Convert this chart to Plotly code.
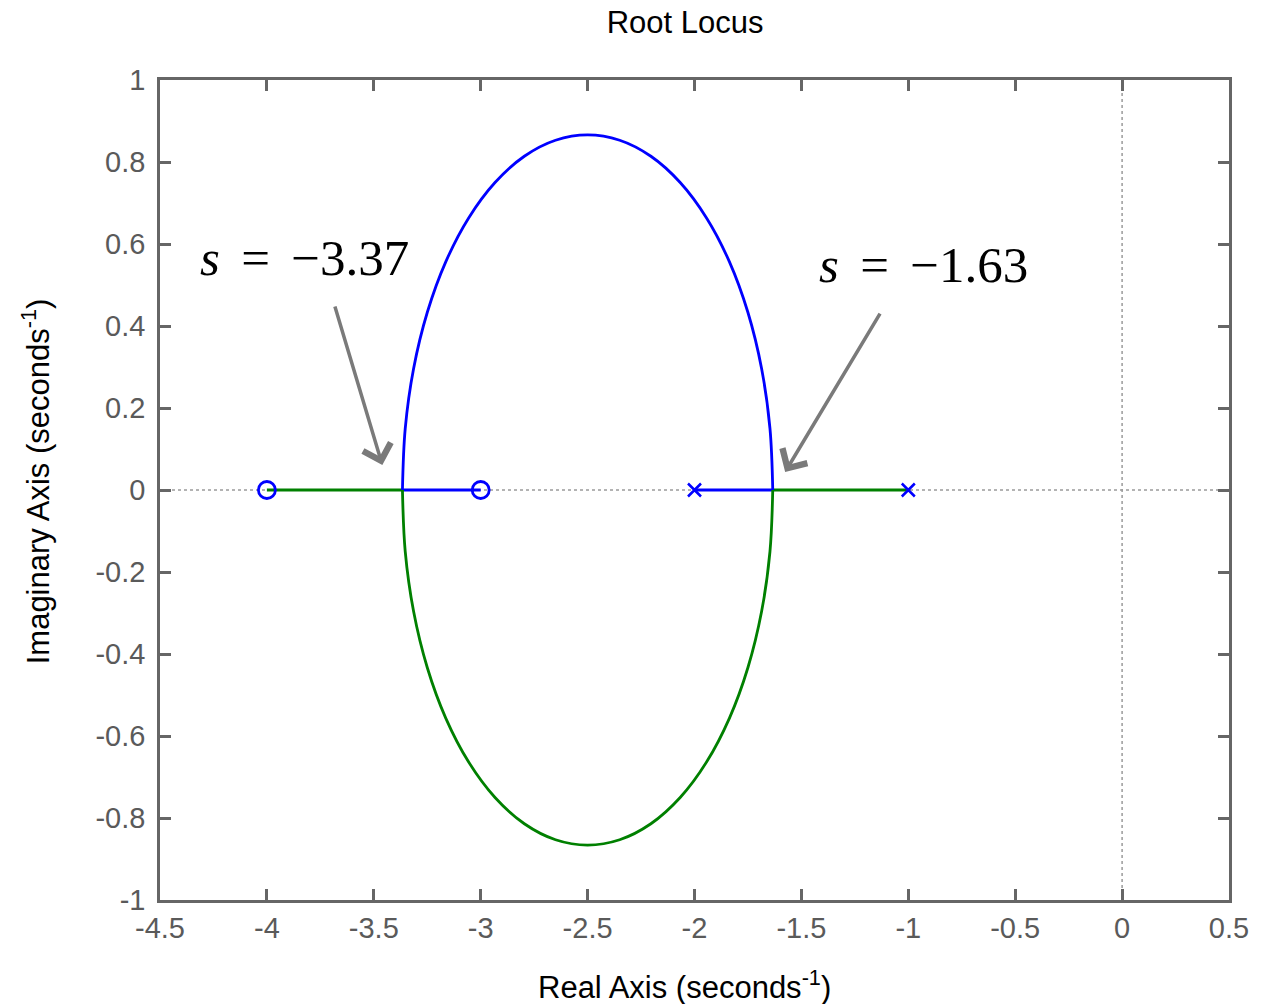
import plotly.graph_objects as go

# ---- data ----
x_range = [-4.5, 0.5]
y_range = [-1, 1]
x_ticks = [-4.5, -4, -3.5, -3, -2.5, -2, -1.5, -1, -0.5, 0, 0.5]
x_tick_labels = ["-4.5", "-4", "-3.5", "-3", "-2.5", "-2", "-1.5", "-1", "-0.5", "0", "0.5"]
y_ticks = [-1, -0.8, -0.6, -0.4, -0.2, 0, 0.2, 0.4, 0.6, 0.8, 1]
y_tick_labels = ["-1", "-0.8", "-0.6", "-0.4", "-0.2", "0", "0.2", "0.4", "0.6", "0.8", "1"]

zeros_x = [-4, -3]
zeros_y = [0, 0]
poles_x = [-2, -1]
poles_y = [0, 0]

# complex part of the locus (read points along the curve)
arc_x = [-3.366, -3.353, -3.314, -3.250, -3.163, -3.057, -2.933, -2.796, -2.650, -2.500,
         -2.350, -2.204, -2.067, -1.943, -1.837, -1.750, -1.686, -1.647, -1.634]
arc_upper_y = [0.000, 0.150, 0.296, 0.433, 0.557, 0.663, 0.750, 0.814, 0.853, 0.866,
               0.853, 0.814, 0.750, 0.663, 0.557, 0.433, 0.296, 0.150, 0.000]
arc_lower_y = [0.000, -0.150, -0.296, -0.433, -0.557, -0.663, -0.750, -0.814, -0.853, -0.866,
               -0.853, -0.814, -0.750, -0.663, -0.557, -0.433, -0.296, -0.150, 0.000]

# real-axis segments
blue_seg1_x = [-2.0, -1.634]
blue_seg2_x = [-3.366, -3.0]
green_seg1_x = [-1.0, -1.634]
green_seg2_x = [-3.366, -4.0]
seg_y = [0, 0]

# annotations
SP = "\u2004\u200a"
left_label = "<i>s</i>" + SP + "=" + SP + "\u22123.37"
right_label = "<i>s</i>" + SP + "=" + SP + "\u22121.63"
left_label_pos = [-3.824, 0.566]
right_label_pos = [-0.927, 0.549]
left_arrow_tail = [-3.684, 0.451]
left_arrow_head = [-3.460, 0.061]
right_arrow_tail = [-1.128, 0.434]
right_arrow_head = [-1.576, 0.044]

BLUE = "#0000FF"
GREEN = "#008000"
AX = "#666666"

fig = go.Figure()

# dotted zero lines
fig.add_shape(type="line", xref="paper", yref="y", x0=0, x1=1, y0=0, y1=0,
              line=dict(color="#9a9a9a", width=1.5, dash="dot"), layer="below")
fig.add_shape(type="line", xref="x", yref="paper", x0=0, x1=0, y0=0, y1=1,
              line=dict(color="#9a9a9a", width=1.5, dash="dot"), layer="below")

lw = 2.8
fig.add_trace(go.Scatter(x=blue_seg1_x, y=seg_y, mode="lines", line=dict(color=BLUE, width=lw)))
fig.add_trace(go.Scatter(x=blue_seg2_x, y=seg_y, mode="lines", line=dict(color=BLUE, width=lw)))
fig.add_trace(go.Scatter(x=green_seg1_x, y=seg_y, mode="lines", line=dict(color=GREEN, width=lw)))
fig.add_trace(go.Scatter(x=green_seg2_x, y=seg_y, mode="lines", line=dict(color=GREEN, width=lw)))
fig.add_trace(go.Scatter(x=arc_x, y=arc_upper_y, mode="lines",
                         line=dict(color=BLUE, width=lw, shape="spline", smoothing=1)))
fig.add_trace(go.Scatter(x=arc_x, y=arc_lower_y, mode="lines",
                         line=dict(color=GREEN, width=lw, shape="spline", smoothing=1)))

fig.add_trace(go.Scatter(x=zeros_x, y=zeros_y, mode="markers",
                         marker=dict(symbol="circle-open", size=17, color=BLUE, line=dict(width=2.8))))
fig.add_trace(go.Scatter(x=poles_x, y=poles_y, mode="markers",
                         marker=dict(symbol="x-thin-open", size=13, color=BLUE, line=dict(width=2.5))))

label_font = dict(family="Liberation Serif", size=51, color="#000000")
fig.add_annotation(x=left_label_pos[0], y=left_label_pos[1], xref="x", yref="y",
                   text=left_label, showarrow=False, font=label_font)
fig.add_annotation(x=right_label_pos[0], y=right_label_pos[1], xref="x", yref="y",
                   text=right_label, showarrow=False, font=label_font)

for tail, head in [(left_arrow_tail, left_arrow_head), (right_arrow_tail, right_arrow_head)]:
    fig.add_annotation(x=head[0], y=head[1], ax=tail[0], ay=tail[1],
                       xref="x", yref="y", axref="x", ayref="y",
                       text="", showarrow=True, arrowhead=4, arrowsize=1.6,
                       arrowwidth=3.5, arrowcolor="#7a7a7a")

# axis titles
fig.add_annotation(text="Real Axis (seconds<sup>-1</sup>)", xref="paper", yref="paper",
                   x=0.4907, y=-0.1037, xanchor="center", yanchor="middle", showarrow=False,
                   font=dict(family="Liberation Sans", size=31, color="#000000"))
fig.add_annotation(text="Imaginary Axis (seconds<sup>-1</sup>)", xref="paper", yref="paper",
                   x=-0.1157, y=0.511, xanchor="center", yanchor="middle", showarrow=False,
                   textangle=-90,
                   font=dict(family="Liberation Sans", size=31, color="#000000"))

axis_common = dict(showline=True, linecolor=AX, linewidth=2.5, mirror="ticks",
                   ticks="inside", ticklen=11, tickwidth=2.5, tickcolor=AX,
                   showgrid=False, zeroline=False,
                   tickfont=dict(family="Liberation Sans", size=29, color="#5a5a5a"))

fig.update_layout(
    width=1261, height=1004,
    margin=dict(l=160, r=29, t=80, b=104),
    paper_bgcolor="white", plot_bgcolor="white",
    showlegend=False,
    title=dict(text="Root Locus", x=0.5433, xanchor="center", y=0.978, yanchor="middle",
               font=dict(family="Liberation Sans", size=31, color="#000000")),
    xaxis=dict(range=x_range, tickvals=x_ticks, ticktext=x_tick_labels, **axis_common),
    yaxis=dict(range=y_range, tickvals=y_ticks, ticktext=y_tick_labels,
               ticklabelstandoff=6, **axis_common),
)

fig.write_html("out.html", config={"displayModeBar": False},
               post_script="document.body.style.margin='0';document.body.style.overflow='hidden';")
